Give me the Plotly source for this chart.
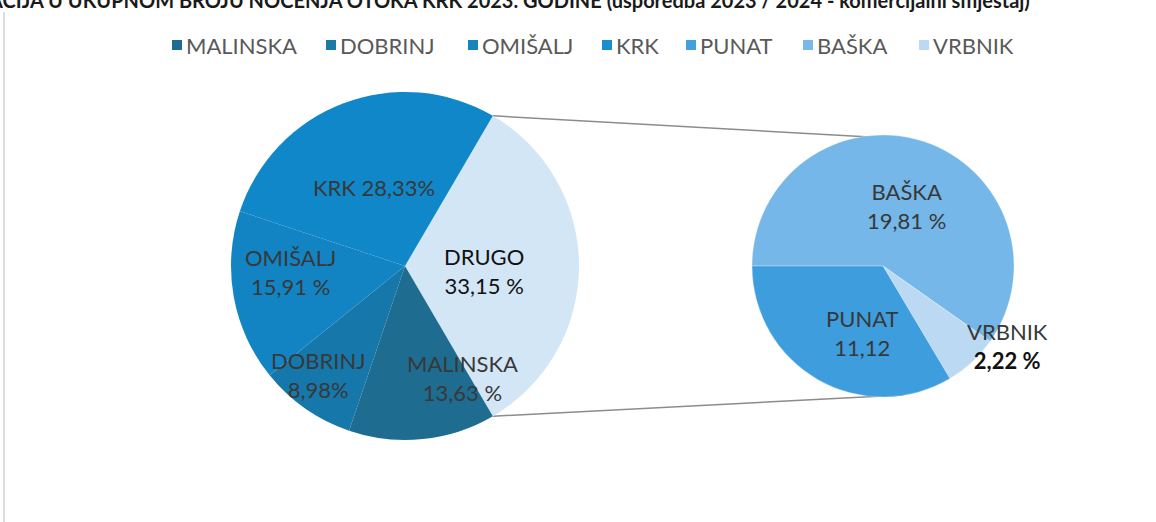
import plotly.graph_objects as go
import math

W, H = 1156, 522

# ---- data ----
main_labels = ["DRUGO", "MALINSKA", "DOBRINJ", "OMIŠALJ", "KRK"]
main_values = [33.15, 13.63, 8.98, 15.91, 28.33]
main_text = ["DRUGO<br>33,15 %", "MALINSKA<br>13,63 %", "DOBRINJ<br>8,98%", "OMIŠALJ<br>15,91 %", "KRK 28,33%"]

sub_labels = ["BAŠKA", "VRBNIK", "PUNAT"]
sub_values = [19.81, 2.22, 11.12]
sub_text = ["BAŠKA<br>19,81 %", "VRBNIK<br><span style='color:#111111'><b>2,22 %</b></span>", "PUNAT<br>11,12"]

legend_labels = ["MALINSKA", "DOBRINJ", "OMIŠALJ", "KRK", "PUNAT", "BAŠKA", "VRBNIK"]

colors = {
    "MALINSKA": "#1f6c91",
    "DOBRINJ": "#1677aa",
    "OMIŠALJ": "#1284c3",
    "KRK": "#1087c9",
    "PUNAT": "#3e9ddc",
    "BAŠKA": "#74b7e8",
    "VRBNIK": "#bcd9f3",
    "DRUGO": "#d3e6f6",
}
legend_colors = {
    "MALINSKA": "#1f6c91", "DOBRINJ": "#1b7aa6", "OMIŠALJ": "#1684bd",
    "KRK": "#1a8dd1", "PUNAT": "#42a0df", "BAŠKA": "#78b9ea", "VRBNIK": "#bcd9f3",
}

FONT = "Lato"

# ---- geometry (pixels) ----
main_c, main_r = (405, 266), 174
sub_c, sub_r = (883, 266), 131
main_rot = 90 - 360 * main_values[0] / sum(main_values) / 2  # DRUGO centred on 3 o'clock
sub_rot = 270


def px(x):
    return x / W


def py(y):
    return 1 - y / H


def dom(c, r):
    return dict(x=[px(c[0] - r), px(c[0] + r)], y=[py(c[1] + r), py(c[1] - r)])


fig = go.Figure()
fig.add_trace(go.Pie(
    labels=main_labels, values=main_values, sort=False, direction="clockwise",
    rotation=main_rot, domain=dom(main_c, main_r), textinfo="none",
    marker=dict(colors=[colors[l] for l in main_labels], line=dict(width=0)),
    showlegend=False, hoverinfo="label+percent",
))
fig.add_trace(go.Pie(
    labels=sub_labels, values=sub_values, sort=False, direction="clockwise",
    rotation=sub_rot, domain=dom(sub_c, sub_r), textinfo="none",
    marker=dict(colors=[colors[l] for l in sub_labels], line=dict(color="rgba(255,255,255,0.6)", width=0.5)),
    showlegend=False, hoverinfo="label+value",
))

# connector lines from DRUGO slice edges to the second pie
a1 = math.radians(main_rot)
a2 = math.radians(main_rot + 360 * main_values[0] / sum(main_values))
p1 = (main_c[0] + main_r * math.sin(a1), main_c[1] - main_r * math.cos(a1))
p2 = (main_c[0] + main_r * math.sin(a2), main_c[1] - main_r * math.cos(a2))
q1 = (sub_c[0] + 5, sub_c[1] - sub_r + 3)
q2 = (sub_c[0] + 20, sub_c[1] + sub_r - 2)
for a, b in [(p1, q1), (p2, q2)]:
    fig.add_shape(type="line", xref="paper", yref="paper",
                  x0=px(a[0]), y0=py(a[1]), x1=px(b[0]), y1=py(b[1]),
                  line=dict(color="#8c8c8c", width=1.5), layer="below")

# left frame line
fig.add_shape(type="line", xref="paper", yref="paper", x0=px(4), x1=px(4), y0=0, y1=py(12),
              line=dict(color="#d0d0d0", width=1.5))

# slice labels (positions in pixels)
label_pos = {
    "KRK": (374, 188), "OMIŠALJ": (290, 272), "DOBRINJ": (318, 375),
    "MALINSKA": (462, 378), "DRUGO": (484, 271),
    "BAŠKA": (906, 206), "PUNAT": (862, 333), "VRBNIK": (1007, 346),
}
label_color = {k: "#383838" for k in label_pos}
label_color["DRUGO"] = "#111111"
for lab, txt in list(zip(main_labels, main_text)) + list(zip(sub_labels, sub_text)):
    x, y = label_pos[lab]
    fig.add_annotation(x=px(x), y=py(y), xref="paper", yref="paper", text=txt,
                       xanchor="center", yanchor="middle",
                       showarrow=False, font=dict(family=FONT, size=22, color=label_color[lab]),
                       align="center")

# legend: square swatch + name, left edges in pixels
legend_x = [172, 326, 468, 602, 686, 803, 919]
sq = 10
ly = 45
for lab, lx in zip(legend_labels, legend_x):
    fig.add_shape(type="rect", xref="paper", yref="paper",
                  x0=px(lx), x1=px(lx + sq), y0=py(ly + sq / 2), y1=py(ly - sq / 2),
                  fillcolor=legend_colors[lab], line=dict(width=0))
    fig.add_annotation(x=px(lx + sq + 2), y=py(ly), xref="paper", yref="paper", xanchor="left", yanchor="middle",
                       text=lab, showarrow=False, font=dict(family=FONT, size=22, color="#595959"))

# cut-off title at the very top
fig.add_annotation(x=px(1032), y=1.0, xref="paper", yref="paper", xanchor="right", yanchor="middle",
                   text="<b>UDIO DESTINACIJA U UKUPNOM BROJU NOĆENJA OTOKA KRK 2023. GODINE (usporedba 2023 / 2024 - komercijalni smještaj)</b>",
                   showarrow=False, font=dict(family=FONT, size=20, color="#1a1a1a"))

fig.update_layout(
    width=W, height=H, margin=dict(l=0, r=0, t=0, b=0),
    paper_bgcolor="white", plot_bgcolor="white",
    showlegend=False,
    font=dict(family=FONT),
)

fig.write_html("out.html", config={"displayModeBar": False},
               post_script="document.body.style.margin='0px';")
